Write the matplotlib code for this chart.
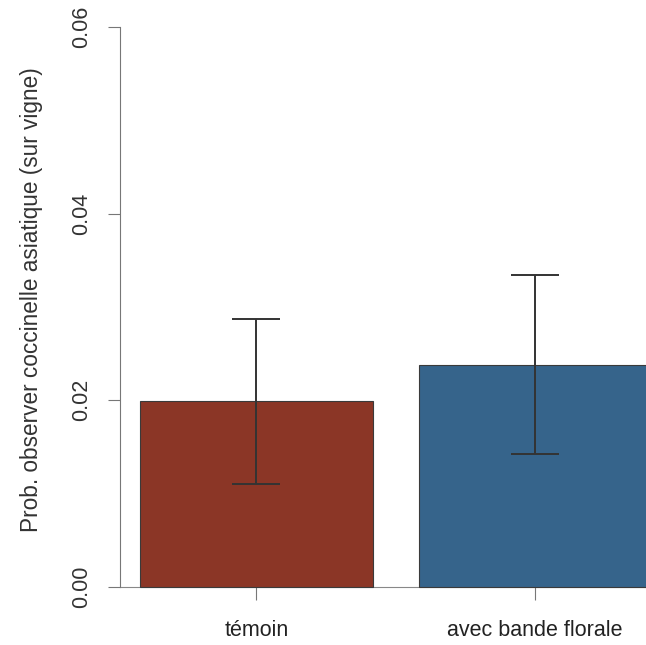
import matplotlib
matplotlib.use("Agg")
import matplotlib.pyplot as plt

# donnees
groupes = ["témoin", "avec bande florale"]
prob = [0.0199, 0.0238]
ic_bas = [0.0110, 0.0142]
ic_haut = [0.0287, 0.0334]
couleurs = ["#8B3626", "#36648B"]

plt.rcParams['font.family'] = ['Liberation Sans', 'DejaVu Sans']

fig = plt.figure(figsize=(6.46, 6.45), dpi=100)
ax = fig.add_axes([120/646, 1-609.4/645, (671.5-120)/646, (609.4-4.6)/645])

# positions comme barplot de R (largeur 1, espace 0.2)
centres = [0.7, 1.9]
ax.bar(centres, prob, width=1.0, color=couleurs, edgecolor="#3a3a3a", linewidth=0.8, zorder=2)

err = [[p - b for p, b in zip(prob, ic_bas)], [h - p for p, h in zip(prob, ic_haut)]]
ax.errorbar(centres, prob, yerr=err, fmt="none", ecolor="#333333", elinewidth=1.4,
            capsize=17, capthick=1.4, zorder=3)

ax.set_xlim(0.112, 2.488)
ax.set_ylim(-0.0024, 0.0624)

for s in ["top", "right"]:
    ax.spines[s].set_visible(False)
ax.spines["left"].set_bounds(0, 0.06)
ax.spines["left"].set_color("#777777")
ax.spines["bottom"].set_position(("data", 0))
ax.spines["bottom"].set_color("#888888")
ax.spines["bottom"].set_zorder(1)

ax.set_yticks([0, 0.02, 0.04, 0.06])
ax.set_yticklabels(["0.00", "0.02", "0.04", "0.06"], rotation=90, va="center")
ax.tick_params(axis="y", length=9, color="#777777", labelsize=15.5, labelcolor="#333333", pad=11)
ax.set_xticks(centres)
ax.set_xticklabels(groupes)
ax.tick_params(axis="x", length=9, color="#777777", labelsize=15.5, labelcolor="#222222", pad=15)

ax.set_ylabel("Prob. observer coccinelle asiatique (sur vigne)", fontsize=16.3, color="#333333")
ax.yaxis.set_label_coords(-0.1396, 0.513)

fig.savefig("out.png", dpi=100)
